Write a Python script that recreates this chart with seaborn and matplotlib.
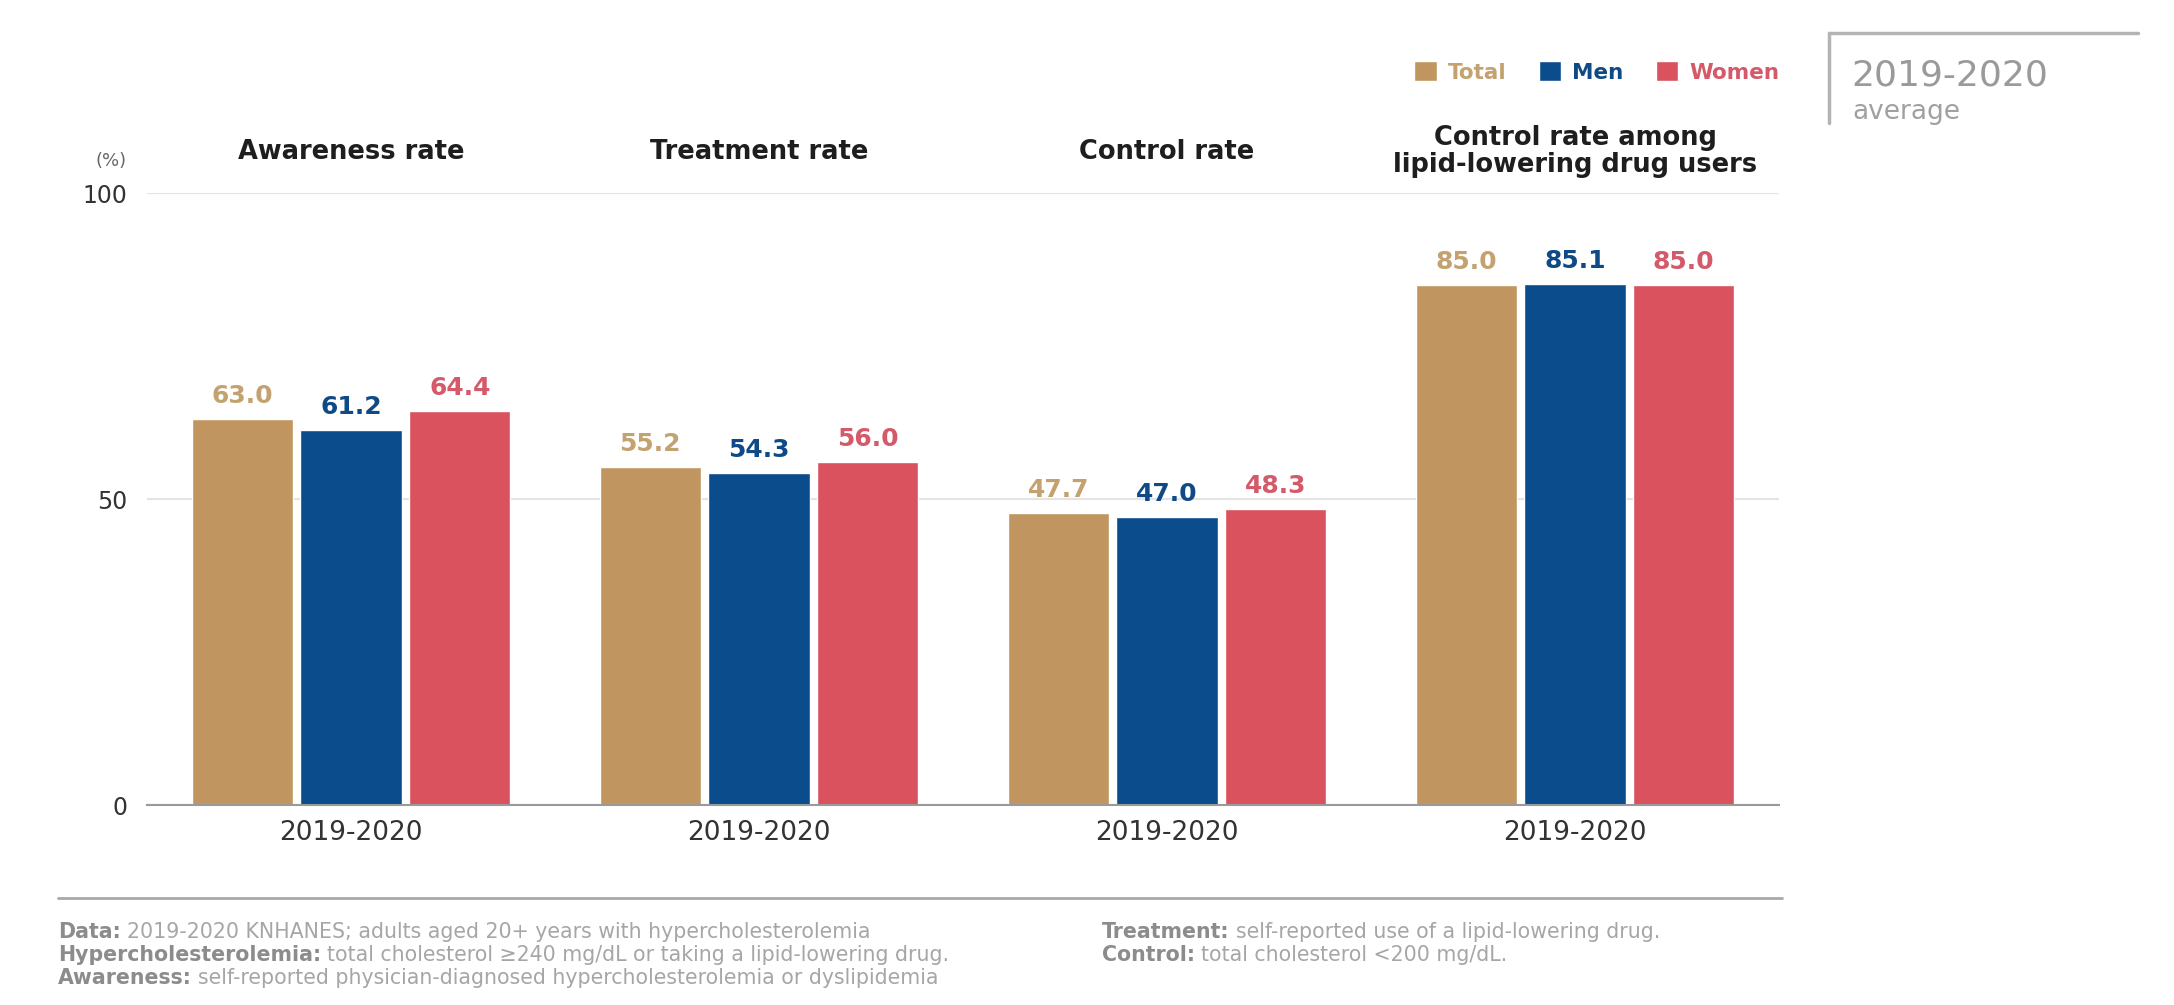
import numpy as np
import pandas as pd
import matplotlib
matplotlib.use("Agg")
import matplotlib.pyplot as plt
from matplotlib.lines import Line2D
import seaborn as sns

# Dyslipidemia management indicators, adults 20+ with hypercholesterolemia (%)
measures = ["Awareness rate", "Treatment rate", "Control rate",
            "Control rate among\nlipid-lowering drug users"]
period_label = "2019-2020"
sexes = ["Total", "Men", "Women"]
total = [63.0, 55.2, 47.7, 85.0]
men = [61.2, 54.3, 47.0, 85.1]
women = [64.4, 56.0, 48.3, 85.0]
y_ticks = [0, 50, 100]

bar_colors = {"Total": "#C1955F", "Men": "#0B4C8D", "Women": "#D9525E"}
label_colors = {"Total": "#C3A26F", "Men": "#0F4A86", "Women": "#D45A6A"}

df = pd.DataFrame({
    "measure": np.repeat(measures, 3),
    "sex": sexes * len(measures),
    "rate": np.ravel(np.column_stack([total, men, women])),
})

sns.set_theme(style="white")
plt.rcParams["font.family"] = ["DejaVu Sans"]

W, H = 2174, 1005
fig = plt.figure(figsize=(W / 100, H / 100), dpi=100)
fig.patch.set_facecolor("white")


def fx(px):
    return px / W


def fy(py):
    return 1 - py / H


ax = fig.add_axes([fx(147), fy(805), fx(1779 - 147), (805 - 193) / H])
sns.barplot(data=df, x="measure", y="rate", hue="sex", hue_order=sexes,
            palette=bar_colors, width=0.8, gap=0.07, saturation=1,
            ax=ax, zorder=3)

ax.set_ylim(0, 100)
ax.set_xlim(-0.5, len(measures) - 0.5)
ax.set_xlabel("")
ax.set_ylabel("")
ax.set_yticks(y_ticks)
ax.set_yticklabels([str(v) for v in y_ticks], fontsize=17, color="#333333")
ax.tick_params(axis="y", length=0, pad=14)
ax.set_xticks(range(len(measures)))
ax.set_xticklabels([period_label] * len(measures), fontsize=19, color="#333333")
ax.tick_params(axis="x", which="major", length=0, pad=11)
ax.set_xticks([i + 0.5 for i in range(len(measures) - 1)], minor=True)
ax.tick_params(axis="x", which="minor", direction="in", length=7,
               width=1.2, color="#9a9a9a")
ax.grid(axis="y", color="#e4e4e4", linewidth=1.6, zorder=0)
ax.grid(axis="x", visible=False)
for side in ["left", "right", "top"]:
    ax.spines[side].set_visible(False)
ax.spines["bottom"].set_color("#9a9a9a")
ax.spines["bottom"].set_linewidth(1.5)
ax.spines["bottom"].set_zorder(4)

# value labels above each bar
for container, sex in zip(ax.containers, sexes):
    ax.bar_label(container, fmt="%.1f", padding=8, fontsize=18,
                 fontweight="bold", color=label_colors[sex])

# measure titles above each group
for i, name in enumerate(measures):
    ax.text(i, 1.067, name, transform=ax.get_xaxis_transform(),
            ha="center", va="center", fontsize=18.5, fontweight="bold",
            color="#1e1e1e", linespacing=1.05)

# legend
handles, labels = ax.get_legend_handles_labels()
ax.get_legend().remove()
leg = fig.legend(handles, labels, loc="center right",
                 bbox_to_anchor=(fx(1779), fy(72)), ncol=3, frameon=False,
                 handlelength=1.05, handleheight=1.05, handletextpad=0.5,
                 columnspacing=1.5, fontsize=15.5, borderaxespad=0,
                 borderpad=0)
for txt, sex in zip(leg.get_texts(), sexes):
    txt.set_color(label_colors[sex])
    txt.set_fontweight("bold")

fig.text(fx(127), fy(161), "(%)", ha="right", va="center", fontsize=13,
         color="#666666")

# period box
fig.add_artist(Line2D([fx(1829), fx(2138)], [fy(33), fy(33)],
                      color="#b4b4b4", linewidth=2.5))
fig.add_artist(Line2D([fx(1829), fx(1829)], [fy(33), fy(123)],
                      color="#b4b4b4", linewidth=2.5))
fig.text(fx(1851), fy(75), period_label, ha="left", va="center",
         fontsize=26, color="#9a9a9a")
fig.text(fx(1852), fy(112), "average", ha="left", va="center",
         fontsize=19, color="#a0a0a0")

# footer notes
fig.add_artist(Line2D([fx(58), fx(1782)], [fy(898), fy(898)],
                      color="#a8a8a8", linewidth=2))

renderer = fig.canvas.get_renderer()


def note(x_px, y_px, head, body):
    t = fig.text(fx(x_px), fy(y_px), head, ha="left", va="center",
                 fontsize=14.8, fontweight="bold", color="#8c8c8c")
    bb = t.get_window_extent(renderer)
    fig.text(bb.x1 / W + fx(6), fy(y_px), body, ha="left", va="center",
             fontsize=14.8, color="#a6a6a6")


note(58, 932, "Data:", "2019-2020 KNHANES; adults aged 20+ years with hypercholesterolemia")
note(58, 955, "Hypercholesterolemia:", "total cholesterol \u2265240 mg/dL or taking a lipid-lowering drug.")
note(58, 978, "Awareness:", "self-reported physician-diagnosed hypercholesterolemia or dyslipidemia")
note(1102, 932, "Treatment:", "self-reported use of a lipid-lowering drug.")
note(1102, 955, "Control:", "total cholesterol <200 mg/dL.")

fig.savefig("out.png", dpi=100, facecolor="white")
